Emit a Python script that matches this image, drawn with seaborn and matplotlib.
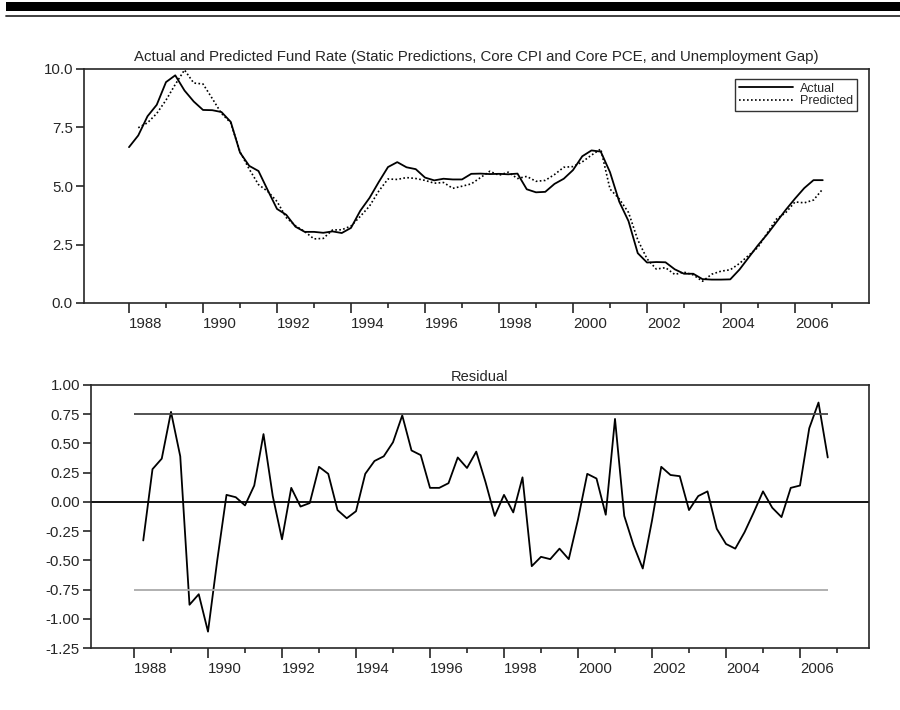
import numpy as np
import pandas as pd
import matplotlib
matplotlib.use("Agg")
import matplotlib.pyplot as plt
import seaborn as sns
from matplotlib.patches import Rectangle
from matplotlib.lines import Line2D

# quarterly series, 1988Q1 - 2006Q4
start_year = 1988
actual = [6.66, 7.16, 7.98, 8.47, 9.44, 9.73, 9.08, 8.61,
          8.25, 8.24, 8.16, 7.74, 6.43, 5.86, 5.64, 4.82,
          4.02, 3.77, 3.26, 3.04, 3.04, 3.00, 3.06, 2.99,
          3.21, 3.94, 4.49, 5.17, 5.81, 6.02, 5.80, 5.72,
          5.36, 5.24, 5.31, 5.28, 5.28, 5.52, 5.53, 5.51,
          5.52, 5.50, 5.53, 4.86, 4.73, 4.75, 5.09, 5.31,
          5.68, 6.27, 6.52, 6.47, 5.59, 4.33, 3.50, 2.13,
          1.73, 1.75, 1.74, 1.44, 1.25, 1.25, 1.02, 1.00,
          1.00, 1.01, 1.43, 1.95, 2.47, 2.94, 3.46, 3.98,
          4.46, 4.91, 5.25, 5.25]
# predicted and residual start at 1988Q2
predicted = [np.nan, 7.49, 7.70, 8.10, 8.67, 9.34, 9.96, 9.40,
             9.36, 8.74, 8.10, 7.70, 6.46, 5.72, 5.06, 4.77,
             4.34, 3.65, 3.30, 3.05, 2.74, 2.76, 3.12, 3.13,
             3.29, 3.70, 4.14, 4.78, 5.30, 5.28, 5.36, 5.32,
             5.24, 5.12, 5.15, 4.90, 4.99, 5.09, 5.36, 5.63,
             5.46, 5.59, 5.32, 5.41, 5.20, 5.24, 5.49, 5.80,
             5.83, 6.03, 6.32, 6.58, 4.87, 4.45, 3.87, 2.70,
             1.89, 1.45, 1.51, 1.22, 1.32, 1.20, 0.93, 1.23,
             1.36, 1.42, 1.69, 2.04, 2.38, 2.99, 3.59, 3.86,
             4.32, 4.28, 4.40, 4.87]
residual = [np.nan, -0.33, 0.28, 0.37, 0.77, 0.39, -0.88, -0.79,
            -1.11, -0.50, 0.06, 0.04, -0.03, 0.14, 0.58, 0.05,
            -0.32, 0.12, -0.04, -0.01, 0.30, 0.24, -0.07, -0.14,
            -0.08, 0.24, 0.35, 0.39, 0.51, 0.74, 0.44, 0.40,
            0.12, 0.12, 0.16, 0.38, 0.29, 0.43, 0.17, -0.12,
            0.06, -0.09, 0.21, -0.55, -0.47, -0.49, -0.40, -0.49,
            -0.15, 0.24, 0.20, -0.11, 0.71, -0.12, -0.37, -0.57,
            -0.16, 0.30, 0.23, 0.22, -0.07, 0.05, 0.09, -0.23,
            -0.36, -0.40, -0.26, -0.09, 0.09, -0.05, -0.13, 0.12,
            0.14, 0.63, 0.85, 0.38]
band = 0.75
top_ticks = [0.0, 2.5, 5.0, 7.5, 10.0]
res_ticks = [1.00, 0.75, 0.50, 0.25, 0.00, -0.25, -0.50, -0.75, -1.00, -1.25]
year_labels = list(range(1988, 2007, 2))

t = start_year + np.arange(len(actual)) / 4.0
df = pd.DataFrame({"t": t, "Actual": actual, "Predicted": predicted, "Residual": residual})

sns.set_style("ticks")
plt.rcParams["font.family"] = ["Liberation Sans", "DejaVu Sans"]
plt.rcParams["axes.linewidth"] = 1.2

fig = plt.figure(figsize=(9, 7.1), dpi=100)

# header bar
fig.patches.append(Rectangle((6 / 900, 1 - 11 / 710), 1, 9 / 710, transform=fig.transFigure,
                             facecolor="black", edgecolor="none"))
fig.add_artist(Line2D([6 / 900, 1], [1 - 15.5 / 710] * 2, transform=fig.transFigure,
                      color="#303030", lw=1.3))

ax1 = fig.add_axes([84 / 900, 1 - 303 / 710, 785 / 900, 234 / 710])
ax2 = fig.add_axes([91 / 900, 1 - 648 / 710, 778 / 900, 263 / 710])

sns.lineplot(data=df, x="t", y="Actual", ax=ax1, color="black", lw=1.3, label="Actual")
sns.lineplot(data=df, x="t", y="Predicted", ax=ax1, color="black", lw=1.2, linestyle=(0, (1, 1.4)),
             label="Predicted")
ax1.set_xlim(1988 - 45 / 37, 1988 + 740 / 37)
ax1.set_ylim(0, 10)
ax1.set_yticks(top_ticks)
ax1.set_yticklabels([f"{v:.1f}" for v in top_ticks])
ax1.set_title("Actual and Predicted Fund Rate (Static Predictions, Core CPI and Core PCE, and Unemployment Gap)",
              fontsize=10.8, pad=6)
leg = ax1.legend(loc="upper right", fontsize=9, frameon=True, fancybox=False,
                 edgecolor="black", handlelength=4.3, borderpad=0.3, labelspacing=0.05,
                 handletextpad=0.6, borderaxespad=0, bbox_to_anchor=(0.985, 0.957))
leg.get_frame().set_linewidth(1.0)

sns.lineplot(data=df, x="t", y="Residual", ax=ax2, color="black", lw=1.3)
ax2.axhline(0, color="black", lw=1.3)
ax2.hlines(band, t[0], t[-1], color="#444444", lw=1.3)
ax2.hlines(-band, t[0], t[-1], color="#aaaaaa", lw=1.3)
ax2.set_xlim(1988 - 43 / 37, 1988 + 735 / 37)
ax2.set_ylim(-1.25, 1.0)
ax2.set_yticks(res_ticks)
ax2.set_yticklabels([f"{v:.2f}" for v in res_ticks])
ax2.set_title("Residual", fontsize=10.5, pad=3)

for ax in (ax1, ax2):
    ax.set_xlabel("")
    ax.set_ylabel("")
    ax.set_xticks(year_labels)
    ax.set_xticklabels([str(y) for y in year_labels], ha="left")
    ax.set_xticks(list(range(1989, 2008, 2)), minor=True)
    ax.tick_params(axis="x", which="major", length=7, width=1.2, labelsize=10.8, pad=3)
    ax.tick_params(axis="x", which="minor", length=3.5, width=1.2)
    ax.tick_params(axis="y", length=6, width=1.2, labelsize=10.8, pad=2)
    for s in ax.spines.values():
        s.set_linewidth(1.2)

fig.savefig("out.png", dpi=100)
